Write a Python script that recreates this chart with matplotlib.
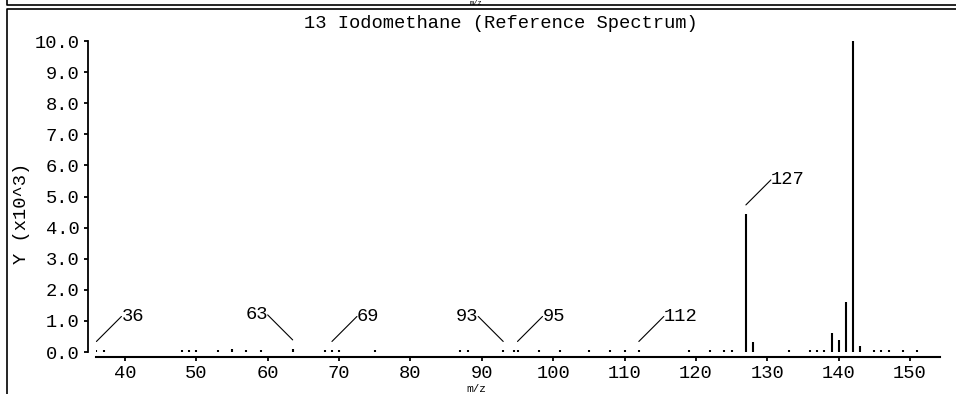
import matplotlib.pyplot as plt
from matplotlib.lines import Line2D
from matplotlib.transforms import offset_copy

# peaks of the reference spectrum (m/z, intensity in units of 10^3)
mz = [36, 37, 48, 49, 50, 53, 55, 57, 59, 63.5, 68, 69, 70, 75, 87, 88,
      93, 94.5, 95, 98, 101, 105, 108, 110, 112, 119, 122, 124, 125,
      127, 128, 133, 136, 137, 138, 139, 140, 141, 142, 143,
      145, 146, 147, 149, 151]
intensity = [0.05, 0.05, 0.05, 0.05, 0.05, 0.05, 0.1, 0.05, 0.05, 0.1,
             0.05, 0.05, 0.05, 0.05, 0.05, 0.05,
             0.05, 0.05, 0.05, 0.05, 0.05, 0.05, 0.05, 0.05, 0.05,
             0.05, 0.05, 0.05, 0.05,
             4.44, 0.31, 0.05, 0.05, 0.05, 0.05, 0.62, 0.39, 1.61, 10.0, 0.2,
             0.05, 0.05, 0.05, 0.05, 0.05]

ann_labels = ['36', '63', '69', '93', '95', '112', '127']
ann_mz = [36, 63.5, 69, 93, 95, 112, 127]
ann_side = [1, -1, 1, -1, 1, 1, 1]

xticks = list(range(40, 151, 10))
yticks = list(range(0, 11))

plt.rcParams['font.family'] = ['Liberation Mono', 'DejaVu Sans Mono']
plt.rcParams['font.size'] = 13.5

W, H = 956, 394
fig = plt.figure(figsize=(W / 100, H / 100), dpi=100)
ax = fig.add_axes([96 / W, 37 / H, 844 / W, 316 / H])

ax.vlines(mz, 0, intensity, colors='black', lw=1.5, capstyle='butt')

ax.set_xlim(35.94, 154.2)
ax.set_ylim(-0.16, 10.0)
ax.set_xticks(xticks)
ax.set_yticks(yticks)
ax.set_yticklabels(['%.1f' % t for t in yticks])

for s in ['top', 'right']:
    ax.spines[s].set_visible(False)
ax.spines['left'].set_position(('outward', 6))
ax.spines['left'].set_bounds(0, 10)
ax.spines['left'].set_linewidth(1.3)
ax.spines['bottom'].set_linewidth(1.5)
ax.tick_params(axis='x', direction='out', length=3, width=1.3, pad=2.5)
ax.tick_params(axis='y', direction='out', length=3, width=1.3, pad=3)

# peak labels with leader lines
base = offset_copy(ax.transData, fig=fig, x=0, y=9, units='dots')
for lab, m, side in zip(ann_labels, ann_mz, ann_side):
    h = intensity[mz.index(m)]
    ax.annotate(lab, xy=(m, h), xycoords=base,
                xytext=(25 * side, 25), textcoords='offset pixels',
                ha='left' if side > 0 else 'right', va='center',
                arrowprops=dict(arrowstyle='-', color='black', lw=0.8,
                                shrinkA=0, shrinkB=0, patchA=None,
                                relpos=(0 if side > 0 else 1, 0.5)),
                annotation_clip=False)

fig.text(501 / W, 1 - 23 / H, '13 Iodomethane (Reference Spectrum)',
         ha='center', va='center')
fig.text(22 / W, 1 - 213 / H, 'Y (x10^3)', rotation=90,
         ha='center', va='center')
fig.text(476 / W, 0.2 / H, 'm/z', ha='center', va='bottom', fontsize=8)
# remnant of the axis title of the panel above
fig.text(476 / W, 1.0, 'm/z', ha='center', va='top', fontsize=5)

# panel frame
def px_line(xs, ys):
    fig.add_artist(Line2D([x / W for x in xs], [1 - y / H for y in ys],
                          transform=fig.transFigure, color='black', lw=1.2))

px_line([7, 7, W], [0, 5, 5])
px_line([7, 7, W], [H, 9, 9])

fig.savefig('out.png', dpi=100, facecolor='white')
